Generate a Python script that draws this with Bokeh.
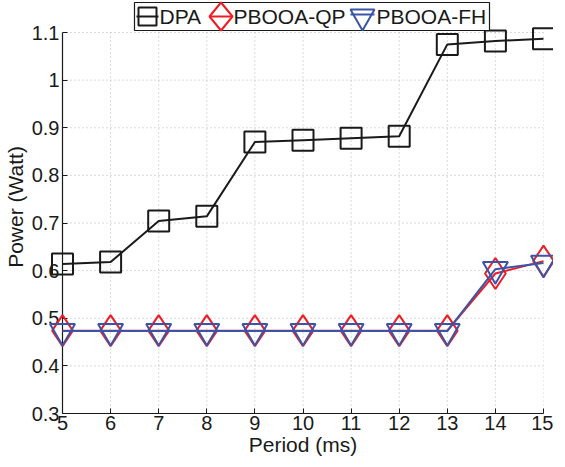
from bokeh.plotting import figure
from bokeh.models import FixedTicker, BoxAnnotation, PolyAnnotation, Label
from bokeh.embed import file_html
from bokeh.resources import INLINE

period = [5, 6, 7, 8, 9, 10, 11, 12, 13, 14, 15]
dpa = [0.614, 0.618, 0.704, 0.714, 0.870, 0.874, 0.878, 0.882, 1.075, 1.082, 1.087]
pbooa_qp = [0.474, 0.474, 0.474, 0.474, 0.474, 0.474, 0.474, 0.474, 0.474, 0.594, 0.620]
pbooa_fh = [0.473, 0.473, 0.473, 0.473, 0.473, 0.473, 0.473, 0.473, 0.473, 0.603, 0.616]
series_names = ["DPA", "PBOOA-QP", "PBOOA-FH"]
y_ticks = [0.3, 0.4, 0.5, 0.6, 0.7, 0.8, 0.9, 1.0, 1.1]
y_labels = ["0.3", "0.4", "0.5", "0.6", "0.7", "0.8", "0.9", "1", "1.1"]
x_ticks = [5, 6, 7, 8, 9, 10, 11, 12, 13, 14, 15]
y_min, y_max = 0.3, 1.1

FONT = "Liberation Sans"
BLACK = "#1a1a1a"
RED = "#ee1c25"
BLUE = "#3a55a8"
GRID = "#b5b5b5"

FW, FH = 481, 413
TOP_PAD = 32  # pixels of frame above the 1.1 line, room for the legend
y_top = y_max + TOP_PAD * (y_max - y_min) / (FH - TOP_PAD)

p = figure(frame_width=FW, frame_height=FH, output_backend="svg", toolbar_location=None,
           x_range=(5, 15), y_range=(y_min, y_top),
           min_border_left=57, min_border_right=10, min_border_top=0, min_border_bottom=5)
p.outline_line_color = None
p.background_fill_color = "white"
p.border_fill_color = "white"
p.xgrid.visible = False
p.ygrid.visible = False

for ax in (p.xaxis[0], p.yaxis[0]):
    ax.axis_line_color = BLACK
    ax.axis_line_width = 1.2
    ax.major_tick_in = 5
    ax.major_tick_out = 0
    ax.minor_tick_line_color = None
    ax.major_tick_line_color = BLACK
    ax.major_label_text_font = FONT
    ax.major_label_text_font_size = "20px"
    ax.major_label_text_color = BLACK
    ax.axis_label_text_font = FONT
    ax.axis_label_text_font_size = "21px"
    ax.axis_label_text_font_style = "normal"
    ax.axis_label_text_color = BLACK

p.yaxis.bounds = (y_min, y_max)
p.xaxis.ticker = FixedTicker(ticks=x_ticks)
p.yaxis.ticker = FixedTicker(ticks=y_ticks)
p.yaxis.major_label_overrides = {t: l for t, l in zip(y_ticks, y_labels)}
p.xaxis.axis_label = "Period (ms)"
p.yaxis.axis_label = "Power (Watt)"
p.xaxis.major_label_standoff = 2
p.xaxis.axis_label_standoff = 0
p.yaxis.major_label_standoff = 3
p.yaxis.axis_label_standoff = 2

# dotted grid limited to the 0.3..1.1 box
p.segment(x0=x_ticks[1:], y0=[y_min] * 10, x1=x_ticks[1:], y1=[y_max] * 10,
          line_color=GRID, line_dash="1 3", line_width=1, level="underlay")
p.segment(x0=[5] * 8, y0=y_ticks[1:], x1=[15] * 8, y1=y_ticks[1:],
          line_color=GRID, line_dash="1 3", line_width=1, level="underlay")

p.line(period, dpa, line_color=BLACK, line_width=2, level="overlay")
p.scatter(period, dpa, marker="square", size=21, line_color=BLACK, line_width=2, fill_color=None, level="overlay")
p.line(period, pbooa_qp, line_color=RED, line_width=2, level="overlay")
p.scatter(period, pbooa_qp, marker="diamond", size=31, line_color=RED, line_width=2, fill_color=None, level="overlay")
p.line(period, pbooa_fh, line_color=BLUE, line_width=2, level="overlay")
p.scatter(period, pbooa_fh, marker="inverted_triangle", size=25, line_color=BLUE, line_width=2, fill_color=None, level="overlay")

# ---- legend box (screen units: x from frame left, y up from frame bottom) ----
p.add_layout(BoxAnnotation(left=72, right=427, bottom=FH - 30, top=FH - 2,
                           left_units="screen", right_units="screen",
                           bottom_units="screen", top_units="screen",
                           fill_color="white", fill_alpha=1,
                           line_color=BLACK, line_alpha=1, line_width=1.2, level="overlay"))

cy = FH - 16
def poly(xs, ys, color):
    p.add_layout(PolyAnnotation(xs=xs, ys=ys, xs_units="screen", ys_units="screen",
                                fill_alpha=0, line_color=color, line_alpha=1,
                                line_width=2, level="overlay"))

# DPA sample: line + square
poly([74, 96], [cy, cy], BLACK)
poly([76, 94, 94, 76], [cy - 9, cy - 9, cy + 9, cy + 9], BLACK)
# PBOOA-QP sample: line + diamond
poly([147, 170], [cy, cy], RED)
poly([158.5, 170, 158.5, 147], [cy + 14, cy, cy - 14, cy], RED)
# PBOOA-FH sample: line + inverted triangle
poly([288, 312], [cy + 2, cy + 2], BLUE)
poly([288, 312, 300], [cy + 7, cy + 7, cy - 14], BLUE)

for name, lx in zip(series_names, [97, 171, 314]):
    p.add_layout(Label(x=lx, y=cy, x_units="screen", y_units="screen", text=name,
                       text_font=FONT, text_font_size="21px", text_color=BLACK,
                       text_baseline="middle", text_align="left", level="overlay"))

open("out.html", "w").write(file_html(p, INLINE))
